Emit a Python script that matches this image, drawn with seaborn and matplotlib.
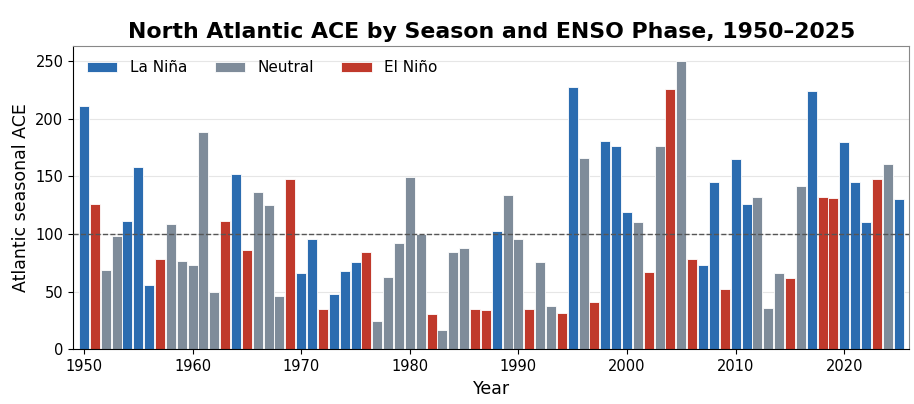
import numpy as np
import pandas as pd
import matplotlib
matplotlib.use("Agg")
import matplotlib.pyplot as plt
import seaborn as sns

years = list(range(1950, 2026))
ace = [211, 126, 69, 98, 111, 158, 56, 78, 109, 77,
       73, 188, 50, 111, 152, 86, 136, 125, 46, 148,
       66, 96, 35, 48, 68, 76, 84, 25, 63, 92,
       149, 100, 31, 17, 84, 88, 35, 34, 103, 134,
       96, 35, 76, 38, 32, 227, 166, 41, 181, 176,
       119, 110, 67, 176, 226, 250, 78, 73, 145, 52,
       165, 126, 132, 36, 66, 62, 142, 224, 132, 131,
       180, 145, 110, 148, 161, 130]
phase_codes = "LENNLLLENN" "NNNELENNNE" "LLELLLENNN" "NNENNNEELN" \
              "NENNELNELL" "LNENENELLE" "LLNNNENLEE" "LLLENL"
code_map = {"L": "La Niña", "N": "Neutral", "E": "El Niño"}
phases = [code_map[c] for c in phase_codes]
climatology = 100

palette = {"La Niña": "#2b6cb0", "Neutral": "#7f8c9a", "El Niño": "#c0392b"}
hue_order = ["La Niña", "Neutral", "El Niño"]

df = pd.DataFrame({"Year": years, "ACE": ace, "Phase": phases})

sns.set_style("ticks")
plt.rcParams['font.family'] = ['DejaVu Sans']
for k in ["text.color", "axes.labelcolor", "xtick.color", "ytick.color", "axes.edgecolor"]:
    plt.rcParams[k] = "black"

fig, ax = plt.subplots(figsize=(9.14, 4.04), dpi=100)
sns.barplot(data=df, x="Year", y="ACE", hue="Phase", hue_order=hue_order,
            palette=palette, saturation=1, native_scale=True, dodge=False, width=0.92,
            edgecolor="white", linewidth=0.6, ax=ax, zorder=2)
ax.axhline(climatology, color="#555555", linestyle="--", linewidth=1.0, zorder=3)

ax.set_xlim(1949.0, 2026.0)
ax.set_ylim(0, max(ace) * 1.05)
ax.set_xticks(range(1950, 2030, 10))
ax.yaxis.grid(True, color="#e6e6e6", linewidth=0.8, zorder=0)
ax.set_axisbelow(True)
ax.tick_params(labelsize=10.5, colors="black")
ax.set_xlabel("Year", fontsize=12.5)
ax.set_ylabel("Atlantic seasonal ACE", fontsize=12.5)
ax.set_title("North Atlantic ACE by Season and ENSO Phase, 1950–2025",
             fontsize=15.8, fontweight="bold", color="black")
for s in ["top", "right"]:
    ax.spines[s].set_color("#888888")
ax.legend(loc="upper left", ncol=3, frameon=False, fontsize=11,
          handlelength=2.0, handletextpad=0.8, columnspacing=1.8, title=None)

fig.subplots_adjust(left=0.08, right=0.995, top=0.885, bottom=0.135)
fig.savefig("out.png", dpi=100)
